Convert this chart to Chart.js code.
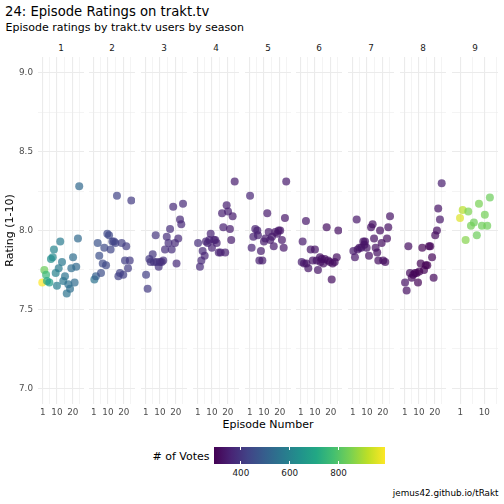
<!DOCTYPE html>
<html><head><meta charset="utf-8">
<script src="https://cdn.jsdelivr.net/npm/chart.js@4/dist/chart.umd.min.js"></script>
<style>
html,body{margin:0;padding:0;background:#fff;}
body{width:504px;height:504px;position:relative;overflow:hidden;font-family:"DejaVu Sans",sans-serif;}
.t{position:absolute;white-space:nowrap;line-height:1;}
canvas{position:absolute;}
</style></head><body>
<div class="t" style="left:5px;top:5px;font-size:13.2px;color:#000">24: Episode Ratings on trakt.tv</div>
<div class="t" style="left:5.5px;top:22px;font-size:11px;color:#000">Episode ratings by trakt.tv users by season</div>
<div class="t" style="left:268px;top:419px;font-size:11px;color:#000;transform:translateX(-50%)">Episode Number</div>
<div class="t" style="left:152.5px;top:451px;font-size:11px;color:#000"># of Votes</div>
<div id="bar" style="position:absolute;left:214px;top:447px;width:171px;height:17px"></div>
<div class="t" style="right:5.5px;top:489px;font-size:8.8px;color:#000">jemus42.github.io/tRakt</div>
<script>
// ---- data (episode number is jittered a little) ----
const SEASONS=['1','2','3','4','5','6','7','8','9'];

const s1Ep=[0.7,2.0,3.1,3.7,5.2,6.2,7.3,8.1,9.2,10.0,11.1,12.1,13.2,14.0,15.1,16.2,17.2,18.3,19.1,20.2,21.2,22.2,23.3,24.1];
const s1Rating=[7.67,7.75,7.72,7.68,7.67,7.82,7.83,7.88,7.73,7.65,7.76,7.93,7.80,7.68,7.71,7.60,7.66,7.63,7.76,7.83,7.67,7.77,7.95,8.28];
const s1Votes=[990,830,760,710,670,635,620,605,595,585,580,575,570,565,560,555,550,545,540,540,535,530,530,525];

const s2Ep=[1.4,2.4,3.5,4.5,5.6,6.7,7.7,8.8,9.6,10.7,11.7,12.8,13.8,14.7,15.7,16.6,17.6,18.7,19.7,20.8,21.6,22.7,23.8,24.8];
const s2Rating=[7.69,7.71,7.92,7.84,7.73,7.79,7.89,7.78,7.98,7.97,7.88,7.93,7.93,7.92,8.22,7.71,7.73,7.92,7.72,7.81,7.90,7.76,7.81,8.19];
const s2Votes=[560,500,470,460,455,450,445,445,440,440,435,435,430,430,430,425,425,420,420,420,415,415,410,410];

const s3Ep=[1.2,2.2,3.3,4.1,5.4,6.2,7.3,7.9,9.2,10.0,11.1,12.1,13.2,14.3,15.4,16.4,17.4,18.4,19.5,20.5,21.6,22.7,23.5,24.6];
const s3Rating=[7.72,7.63,7.82,7.80,7.85,7.80,7.97,7.80,7.77,7.80,7.80,7.81,7.88,7.96,7.92,8.01,7.88,8.15,7.92,7.79,7.95,8.07,8.04,8.17];
const s3Votes=[420,410,405,400,400,395,395,390,390,390,385,385,385,380,380,380,380,375,375,375,375,370,370,370];

const s4Ep=[1.2,2.4,3.3,4.1,5.4,6.2,7.3,8.3,9.2,10.0,11.3,12.1,13.0,14.3,15.5,16.4,17.2,18.4,19.3,20.2,21.4,22.2,23.1,24.4];
const s4Rating=[7.92,7.77,7.81,7.87,7.84,7.93,7.92,7.94,7.98,7.89,7.94,7.94,7.92,7.86,7.86,8.11,8.02,7.86,8.16,8.12,8.01,7.94,8.09,8.31];
const s4Votes=[380,375,370,370,365,365,365,360,360,360,360,355,355,355,355,350,350,350,350,350,345,345,345,345];

const s5Ep=[1.2,2.2,3.3,4.5,5.8,6.2,7.1,8.1,9.0,10.0,10.9,12.1,13.0,14.0,15.1,16.2,17.2,18.4,19.3,20.3,21.4,22.5,23.3,24.1];
const s5Rating=[8.22,7.89,7.96,8.01,8.00,7.97,7.81,7.87,7.81,7.93,7.95,8.11,7.99,7.94,7.96,7.90,7.99,7.98,8.00,8.00,7.94,7.89,8.08,8.31];
const s5Votes=[365,360,355,355,350,350,350,345,345,345,345,340,340,340,340,340,335,335,335,335,335,335,335,340];

const s6Ep=[1.6,2.2,3.1,4.3,4.6,5.8,7.3,8.6,10.0,11.1,11.9,13.2,13.5,14.3,15.3,16.2,17.4,18.3,19.5,20.6,21.2,22.5,23.8,24.8];
const s6Rating=[7.80,7.93,7.79,8.06,7.79,7.76,7.88,7.81,7.88,7.81,7.75,7.83,7.80,7.82,7.79,7.82,8.02,7.81,7.80,7.69,7.79,7.80,7.83,8.00];
const s6Votes=[345,340,335,335,330,330,330,325,325,325,325,320,320,320,320,320,315,315,315,315,315,315,315,320];

const s7Ep=[1.4,2.4,3.5,4.1,5.2,6.4,7.7,8.4,8.8,9.8,11.3,12.6,13.6,14.5,15.5,16.5,17.2,18.3,19.3,20.3,21.6,22.7,23.5,24.6];
const s7Rating=[7.87,7.83,8.07,7.88,7.89,7.89,7.93,7.91,7.93,7.89,7.84,8.02,8.04,7.95,7.89,7.86,7.81,8.00,7.92,7.81,7.80,7.95,8.02,8.09];
const s7Votes=[340,335,335,330,330,330,325,325,325,325,320,320,320,320,320,320,315,315,315,315,315,315,320,325];

const s8Ep=[1.2,2.2,3.3,4.3,5.4,6.4,7.5,8.6,9.4,10.2,11.1,12.1,13.2,14.3,15.3,16.4,17.2,18.3,19.3,20.3,21.4,22.2,23.3,24.4];
const s8Rating=[7.67,7.62,7.90,7.73,7.70,7.72,7.73,7.73,7.67,7.74,7.79,7.89,7.75,7.78,7.78,7.90,7.90,7.83,7.70,7.97,8.00,8.14,8.07,8.30];
const s8Votes=[325,320,315,310,305,300,300,300,295,295,295,295,290,290,290,295,300,300,305,310,315,325,335,345];

const s9Ep=[0.9,1.9,3.0,4.0,5.0,6.1,7.2,8.0,9.1,10.2,11.1,12.1];
const s9Rating=[8.08,8.13,7.94,8.12,8.03,8.05,7.97,8.17,8.03,8.10,8.03,8.21];
const s9Votes=[955,915,860,850,840,835,830,845,835,840,835,830];

const EPS=[s1Ep,s2Ep,s3Ep,s4Ep,s5Ep,s6Ep,s7Ep,s8Ep,s9Ep];
const RATINGS=[s1Rating,s2Rating,s3Rating,s4Rating,s5Rating,s6Rating,s7Rating,s8Rating,s9Rating];
const VOTES=[s1Votes,s2Votes,s3Votes,s4Votes,s5Votes,s6Votes,s7Votes,s8Votes,s9Votes];

// axis breaks
const Y_MAJOR=[7.0,7.5,8.0,8.5,9.0];
const Y_MINOR=[7.25,7.75,8.25,8.75];
const X_MAJOR=[1,10,20];
const X_MINOR_LONG=[5.5,15,24.5];
const X_MINOR_SHORT=[5.5,14.5];
const VOTE_TICKS=[400,600,800];
const VOTE_MIN=290,VOTE_MAX=990;

// ---- layout ----
const PANEL_LEFT=[38,89,141,193,245,296,348,400,452];
const PANEL_W=46,PANEL_H=347,PANEL_TOP=57,AXIS_H=16,Y_AXIS_W=38;
const FONT='"DejaVu Sans", sans-serif';

const VIR=['#440154','#482475','#414487','#355f8d','#2a788e','#21918c','#22a884','#44bf70','#7ad151','#bddf26','#fde725'];
function hexRgb(h){return [1,3,5].map(i=>parseInt(h.slice(i,i+2),16));}
function viridis(v,a){
  let t=(v-VOTE_MIN)/(VOTE_MAX-VOTE_MIN);t=Math.max(0,Math.min(1,t));
  const p=t*(VIR.length-1),i=Math.min(Math.floor(p),VIR.length-2),f=p-i;
  const c0=hexRgb(VIR[i]),c1=hexRgb(VIR[i+1]);
  const c=c0.map((x,k)=>Math.round(x+(c1[k]-x)*f));
  return `rgba(${c[0]},${c[1]},${c[2]},${a})`;
}

function makePanel(i){
  const first=i===0,short=i===8;
  const extra=first?Y_AXIS_W:0;
  const cv=document.createElement('canvas');
  const w=PANEL_W+extra,h=PANEL_H+AXIS_H;
  cv.width=w;cv.height=h;
  cv.style.left=(PANEL_LEFT[i]-extra)+'px';cv.style.top=PANEL_TOP+'px';
  cv.style.width=w+'px';cv.style.height=h+'px';
  document.body.appendChild(cv);

  const xMinor=short?X_MINOR_SHORT:X_MINOR_LONG;
  const xMajor=X_MAJOR.filter(v=>!short||v<=12);
  const xTicks=[...xMajor,...xMinor].sort((a,b)=>a-b);
  const yTicks=[...Y_MAJOR,...Y_MINOR].sort((a,b)=>a-b);

  new Chart(cv,{
    type:'scatter',
    data:{datasets:[{
      data:EPS[i].map((x,j)=>({x,y:RATINGS[i][j]})),
      backgroundColor:VOTES[i].map(v=>viridis(v,0.7)),
      borderWidth:0,pointRadius:4,pointHoverRadius:4
    }]},
    options:{responsive:false,animation:false,devicePixelRatio:1,layout:{padding:0,autoPadding:false},
      plugins:{legend:{display:false},tooltip:{enabled:false}},
      scales:{
        x:{type:'linear',min:short?-2.11:-2.0,max:short?15.14:27.13,
          afterBuildTicks:s=>{s.ticks=xTicks.map(v=>({value:v}));},
          afterFit:s=>{s.height=AXIS_H;s.paddingLeft=0;s.paddingRight=0;},
          grid:{color:'#ebebeb',drawTicks:false,lineWidth:c=>xMajor.includes(c.tick.value)?1.1:0.55},
          border:{display:false},
          ticks:{autoSkip:false,maxRotation:0,minRotation:0,padding:3,color:'#4d4d4d',
            font:{family:FONT,size:8.8},callback:v=>xMajor.includes(v)?String(v):''}},
        y:{type:'linear',min:6.9,max:9.1,
          afterBuildTicks:s=>{s.ticks=yTicks.map(v=>({value:v}));},
          afterFit:s=>{s.width=extra;s.paddingTop=0;s.paddingBottom=0;},
          grid:{color:'#ebebeb',drawTicks:false,lineWidth:c=>Y_MAJOR.includes(c.tick.value)?1.1:0.55},
          border:{display:false},
          title:{display:first,text:'Rating (1-10)',color:'#000',font:{family:FONT,size:11},padding:{top:4,bottom:0}},
          ticks:{display:first,padding:5,color:'#4d4d4d',font:{family:FONT,size:8.8},
            callback:v=>Y_MAJOR.includes(v)?v.toFixed(1):''}}
      }
    }
  });

  const lab=document.createElement('div');
  lab.className='t';lab.textContent=SEASONS[i];
  lab.style.cssText+=`left:${PANEL_LEFT[i]+PANEL_W/2}px;top:44px;font-size:8.8px;color:#1a1a1a;transform:translateX(-50%)`;
  document.body.appendChild(lab);
}
SEASONS.forEach((s,i)=>makePanel(i));

// ---- colour bar legend ----
const bar=document.getElementById('bar');
bar.style.background='linear-gradient(to right,'+VIR.join(',')+')';
VOTE_TICKS.forEach(v=>{
  const x=(v-VOTE_MIN)/(VOTE_MAX-VOTE_MIN)*171;
  ['top:0','bottom:0'].forEach(pos=>{
    const tk=document.createElement('div');
    tk.style.cssText=`position:absolute;left:${x-0.5}px;${pos};width:1px;height:3.4px;background:#fff`;
    bar.appendChild(tk);
  });
  const l=document.createElement('div');
  l.className='t';l.textContent=String(v);
  l.style.cssText+=`left:${214+x}px;top:469px;font-size:8.8px;color:#1a1a1a;transform:translateX(-50%)`;
  document.body.appendChild(l);
});
</script>
</body></html>
